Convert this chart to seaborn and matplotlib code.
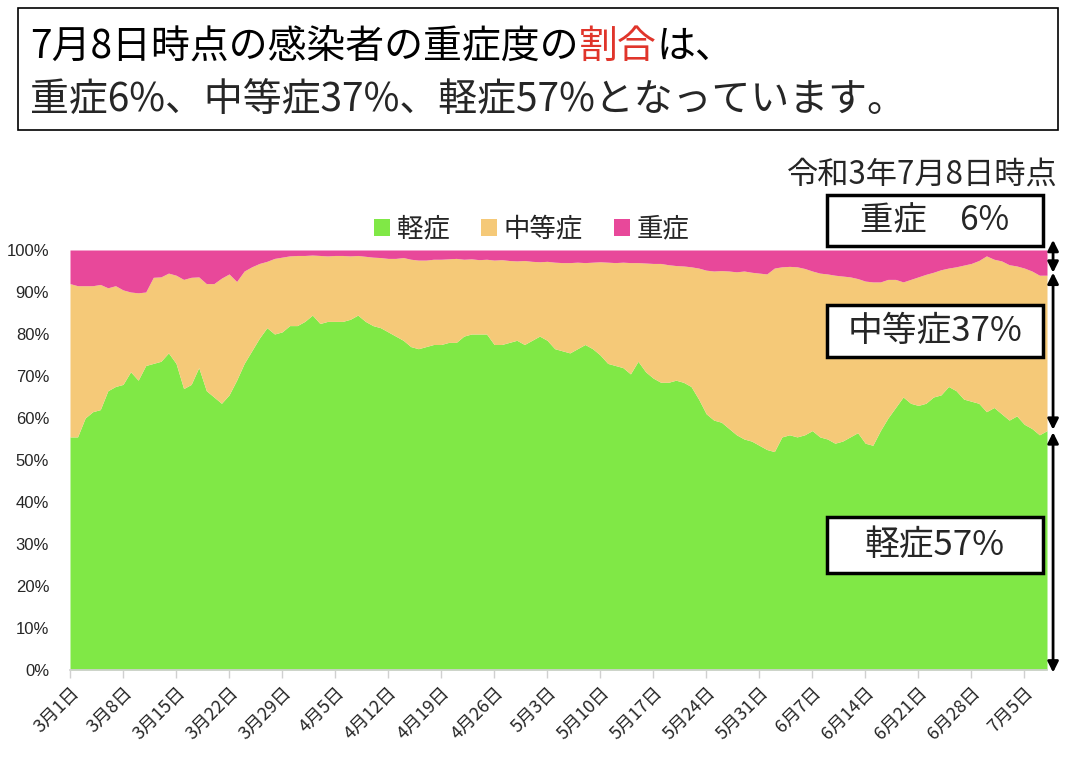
import numpy as np
import pandas as pd
import seaborn as sns
import matplotlib.pyplot as plt
from matplotlib.patches import Rectangle, Patch

# 令和3年3月1日～7月8日 の重症度別割合(%)
dates = pd.date_range("2021-03-01", "2021-07-08", freq="D")

mild = [55.5, 55.5, 60, 61.5, 62, 66.5, 67.5, 68, 71, 69,
        72.5, 73, 73.5, 75.5, 73, 67, 68, 72, 66.5, 65,
        63.5, 65.5, 69, 73, 76, 79, 81.5, 80, 80.5, 82,
        82, 83, 84.5, 82.5, 83, 83, 83, 83.5, 84.5, 83,
        82, 81.5, 80.5, 79.5, 78.5, 77, 76.5, 77, 77.5, 77.5,
        78, 78, 79.5, 80, 80, 80, 77.5, 77.5, 78, 78.5,
        77.5, 78.5, 79.5, 78.5, 76.5, 76, 75.5, 76.5, 77.5, 76.5,
        75, 73, 72.5, 72, 70.5, 73.5, 71, 69.5, 68.5, 68.5,
        69, 68.5, 67.5, 64.5, 61, 59.5, 59, 57.5, 56, 55,
        54.5, 53.5, 52.5, 52, 55.5, 56, 55.5, 56, 57, 55.5,
        55, 54, 54.5, 55.5, 56.5, 54, 53.5, 57, 60, 62.5,
        65, 63.5, 63, 63.5, 65, 65.5, 67.5, 66.5, 64.5, 64,
        63.5, 61.5, 62.5, 61, 59.5, 60.5, 58.5, 57.5, 56, 57]

moderate = [36.5, 36, 31.5, 30, 29.8, 24.5, 24, 22.5, 19, 20.8,
            17.5, 20.5, 20.1, 19, 21, 26, 25.5, 21.6, 25.5, 27,
            29.8, 28.8, 23.5, 22, 20, 17.8, 15.8, 18, 17.8, 16.6,
            16.7, 15.7, 14.3, 16.2, 15.6, 15.7, 15.7, 15.1, 14.2, 15.5,
            16.3, 16.7, 17.5, 18.5, 19.7, 20.8, 21.1, 20.6, 20.3, 20.3,
            19.9, 20, 18.3, 17.9, 17.7, 17.8, 20.1, 20.2, 19.5, 18.9,
            20, 18.8, 17.7, 18.8, 20.6, 21, 21.5, 20.6, 19.5, 20.6,
            22.2, 24.1, 24.5, 25.1, 26.5, 23.5, 25.9, 27.3, 28.3, 28,
            27.3, 27.7, 28.5, 31.2, 34.2, 35.5, 36.1, 37.5, 38.8, 40,
            40.2, 41, 41.8, 43.7, 40.5, 40.1, 40.5, 39.6, 38, 39,
            39.3, 40, 39.3, 38.1, 36.7, 38.6, 38.9, 35.4, 33, 30.5,
            27.4, 29.5, 30.6, 30.7, 29.7, 29.8, 28.2, 29.5, 31.9, 32.8,
            34, 37.1, 35.3, 36.4, 37, 35.7, 37.2, 37.5, 38, 37]

severe = [8, 8.5, 8.5, 8.5, 8.2, 9, 8.5, 9.5, 10, 10.2,
          10, 6.5, 6.4, 5.5, 6, 7, 6.5, 6.4, 8, 8,
          6.7, 5.7, 7.5, 5, 4, 3.2, 2.7, 2, 1.7, 1.4,
          1.3, 1.3, 1.2, 1.3, 1.4, 1.3, 1.3, 1.4, 1.3, 1.5,
          1.7, 1.8, 2, 2, 1.8, 2.2, 2.4, 2.4, 2.2, 2.2,
          2.1, 2, 2.2, 2.1, 2.3, 2.2, 2.4, 2.3, 2.5, 2.6,
          2.5, 2.7, 2.8, 2.7, 2.9, 3, 3, 2.9, 3, 2.9,
          2.8, 2.9, 3, 2.9, 3, 3, 3.1, 3.2, 3.2, 3.5,
          3.7, 3.8, 4, 4.3, 4.8, 5, 4.9, 5, 5.2, 5,
          5.3, 5.5, 5.7, 4.3, 4, 3.9, 4, 4.4, 5, 5.5,
          5.7, 6, 6.2, 6.4, 6.8, 7.4, 7.6, 7.6, 7, 7,
          7.6, 7, 6.4, 5.8, 5.3, 4.7, 4.3, 4, 3.6, 3.2,
          2.5, 1.4, 2.2, 2.6, 3.5, 3.8, 4.3, 5, 6, 6]

labels = ["軽症", "中等症", "重症"]
colors = ["#80E846", "#F5C978", "#E8489A"]

df = pd.DataFrame({"軽症": mild, "中等症": moderate, "重症": severe}, index=dates)
df = df.div(df.sum(axis=1), axis=0) * 100

sns.set_theme(style="white")
plt.rcParams['font.family'] = ['Noto Sans CJK JP', 'DejaVu Sans']

W, H = 1077, 758
fig = plt.figure(figsize=(W / 100, H / 100), dpi=100)
ax = fig.add_axes([70 / W, 1 - 670 / H, 977 / W, 420 / H])

x = np.arange(len(df))
ax.stackplot(x, df["軽症"], df["中等症"], df["重症"], colors=colors, lw=0)
ax.set_xlim(0, len(df) - 1)
ax.set_ylim(0, 100)

ticks = list(range(0, len(df), 7))
ax.set_xticks(ticks)
ax.set_xticklabels([f"{dates[i].month}月{dates[i].day}日" for i in ticks],
                   rotation=45, ha="right", rotation_mode="anchor", fontsize=13)
ax.set_yticks(range(0, 101, 10))
ax.set_yticklabels([f"{v}%" for v in range(0, 101, 10)],
                   fontsize=12, family=['Liberation Sans', 'DejaVu Sans'])
ax.tick_params(axis="x", length=6, color="#d0d0d0", width=1, pad=4, bottom=True)
ax.tick_params(axis="y", length=0, pad=15)
for s in ["top", "right", "left"]:
    ax.spines[s].set_visible(False)
ax.spines["bottom"].set_color("#d0d0d0")
ax.grid(False)

handles = [Patch(facecolor=c, edgecolor="none") for c in colors]
fig.legend(handles, labels, loc="center", bbox_to_anchor=(532 / W, 1 - 229 / H),
           ncol=3, frameon=False, fontsize=19, handlelength=0.6, handleheight=0.6,
           handletextpad=0.25, columnspacing=1.2)

# 右側の矢印
arrow_x = 129.8
for y0, y1 in [(102.4, 94.6), (94.6, 57.2), (56.6, -0.6)]:
    ax.annotate("", xy=(arrow_x, y0), xytext=(arrow_x, y1),
                arrowprops=dict(arrowstyle="<|-|>", color="black", lw=2,
                                mutation_scale=16, shrinkA=0, shrinkB=0),
                annotation_clip=False)

def box(x0, y0, x1, y1, lw):
    fig.add_artist(Rectangle((x0 / W, 1 - y1 / H), (x1 - x0) / W, (y1 - y0) / H,
                             transform=fig.transFigure, facecolor="white",
                             edgecolor="black", lw=lw, zorder=5))

# 右側のラベル
for (y0, y1), txt, fs in zip([(195, 246), (305, 357), (517, 573)],
                             ["重症　6%", "中等症37%", "軽症57%"], [24, 25, 25]):
    box(827, y0, 1043, y1, 2.5)
    fig.text(935 / W, 1 - (y0 + y1) / 2 / H, txt, ha="center", va="center",
             fontsize=fs, zorder=6)

fig.text(1058 / W, 1 - 175 / H, "令和3年7月8日時点", ha="right", va="center", fontsize=22.5)

# タイトル
box(18, 8, 1058, 130, 1.2)
title_size = 28
fig.canvas.draw()
renderer = fig.canvas.get_renderer()
xpos = 30
for part, col in [("7月8日時点の感染者の重症度の", "black"), ("割合", "#E0352B"), ("は、", "black")]:
    t = fig.text(xpos / W, 1 - 47 / H, part, ha="left", va="center",
                 fontsize=title_size, color=col, zorder=6)
    xpos = t.get_window_extent(renderer=renderer).x1
fig.text(30 / W, 1 - 101 / H, "重症6%、中等症37%、軽症57%となっています。",
         ha="left", va="center", fontsize=title_size, zorder=6)

fig.savefig("out.png", dpi=100)
